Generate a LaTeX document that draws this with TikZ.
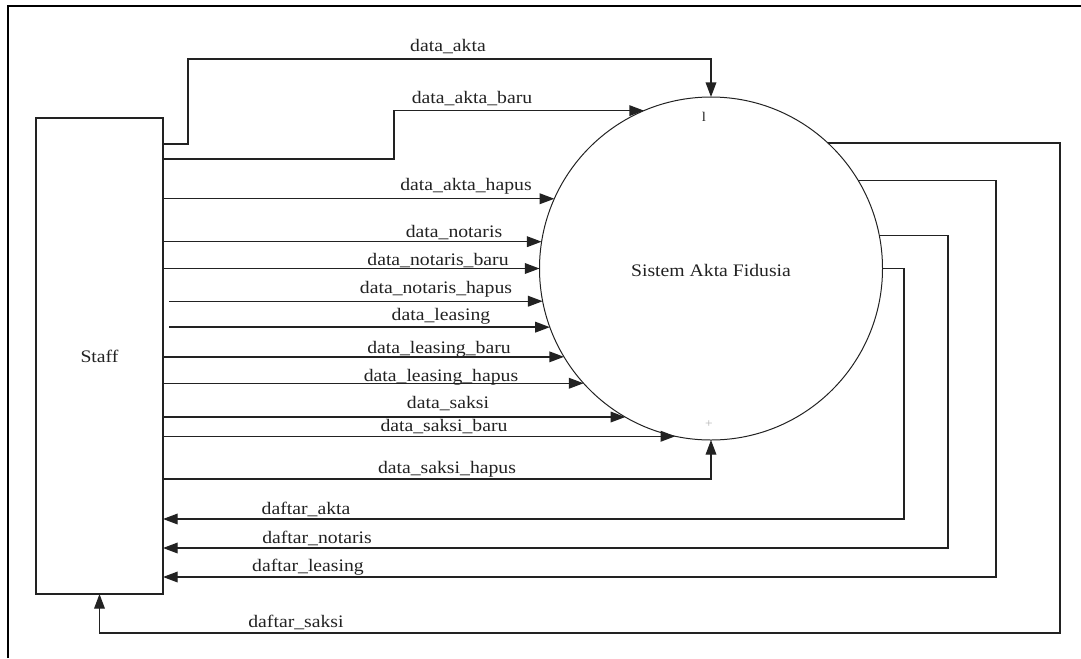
\documentclass[tikz,border=0pt]{standalone}
\usepackage{fontspec}
\setmainfont[FakeStretch=1.12]{Liberation Serif}
\usetikzlibrary{arrows.meta}
\definecolor{ink}{HTML}{222222}
\tikzset{
  flow/.style={draw=ink, line width=1pt, -{Triangle[length=11pt,width=8pt]}},
  lbl/.style={inner sep=0pt, text=ink, font=\fontsize{13.2}{15}\selectfont},
  proc/.style={circle, draw=ink, line width=0.75pt, minimum size=257.25pt, inner sep=0pt, outer sep=0pt, text=ink, font=\fontsize{13.2}{15}\selectfont},
  ent/.style={rectangle, draw=ink, line width=1pt, minimum width=95.25pt, minimum height=357pt, inner sep=0pt, outer sep=0pt, text=ink, font=\fontsize{13.2}{15}\selectfont}
}
\begin{document}
\begin{tikzpicture}[x=0.75pt, y=-0.75pt]
\useasboundingbox (0,0) rectangle (1081,658);
% frame
\coordinate (f1) at (8,658);
\coordinate (f2) at (8,6);
\coordinate (f3) at (1081,6);
\draw[draw=black, line width=1.1pt] (f1) -- (f2) -- (f3);

% nodes
\node[ent] (staff) at (99.5,356) {Staff};
\node[proc] (c) at (711,268.5) {};
\node[lbl] (ctext) at (711,270) {Sistem Akta Fidusia};
\node[lbl, font=\fontsize{10}{12}\selectfont] (pnum) at (704,117) {l};
\node[lbl, text=gray!60, font=\fontsize{9}{10}\selectfont] (pcross) at (709,424) {+};

% helper coordinates
\coordinate (ya) at (0,144);
\coordinate (a1) at (188,59);
\coordinate (b1) at (394,159);
\coordinate (nh) at (169,0);
\coordinate (ysh) at (0,479);
\coordinate (dk) at (904,519);
\coordinate (dn) at (948,548);
\coordinate (dl) at (996,577);
\coordinate (ds) at (1060,633);

% inputs
\draw[flow] (staff.east |- ya) -| (a1) -| (c.north);
\draw[flow] (staff.east |- b1) -- (b1) |- (c.113.3);
\draw[flow] (staff.east |- c.156.8) -- (c.156.8);
\draw[flow] (staff.east |- c.171.4) -- (c.171.4);
\draw[flow] (staff.east |- c.180.5) -- (c.180.5);
\draw[flow] (nh |- c.191.6) -- (c.191.6);
\draw[flow] (nh |- c.200.7) -- (c.200.7);
\draw[flow] (staff.east |- c.211.1) -- (c.211.1);
\draw[flow] (staff.east |- c.222.8) -- (c.222.8);
\draw[flow] (staff.east |- c.240.7) -- (c.240.7);
\draw[flow] (staff.east |- c.258.5) -- (c.258.5);
\draw[flow] (staff.east |- ysh) -| (c.south);

% outputs
\draw[flow] (c.-0.5) -| (dk) -- (staff.east |- dk);
\draw[flow] (c.11.6) -| (dn) -- (staff.east |- dn);
\draw[flow] (c.31.07) -| (dl) -- (staff.east |- dl);
\draw[flow] (c.47.5) -| (ds) -| (staff.south);

% labels
\node[lbl] (l1) at (448,47) {data\_akta};
\node[lbl] (l2) at (472,99) {data\_akta\_baru};
\node[lbl] (l3) at (466,186) {data\_akta\_hapus};
\node[lbl] (l4) at (454,233) {data\_notaris};
\node[lbl] (l5) at (438,261) {data\_notaris\_baru};
\node[lbl] (l6) at (436,289) {data\_notaris\_hapus};
\node[lbl] (l7) at (441,316) {data\_leasing};
\node[lbl] (l8) at (439,349) {data\_leasing\_baru};
\node[lbl] (l9) at (441,377) {data\_leasing\_hapus};
\node[lbl] (l10) at (448,404) {data\_saksi};
\node[lbl] (l11) at (444,427) {data\_saksi\_baru};
\node[lbl] (l12) at (447,469) {data\_saksi\_hapus};
\node[lbl] (l13) at (306,509) {daftar\_akta};
\node[lbl] (l14) at (317,538) {daftar\_notaris};
\node[lbl] (l15) at (308,567) {daftar\_leasing};
\node[lbl] (l16) at (296,622) {daftar\_saksi};
\end{tikzpicture}
\end{document}
